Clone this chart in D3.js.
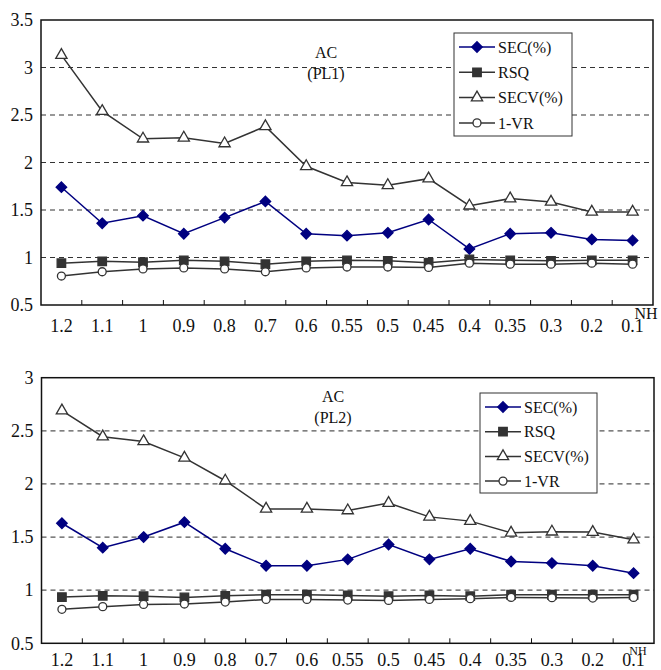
<!DOCTYPE html>
<html>
<head>
<meta charset="utf-8">
<script src="https://cdn.jsdelivr.net/npm/d3@7"></script>
<style>
  body { margin: 0; background: #fff; }
  text { font-family: "Liberation Serif", "Times New Roman", serif; fill: #111; }
</style>
</head>
<body>
<script>
// categories (NH)
let nh = ["1.2", "1.1", "1", "0.9", "0.8", "0.7", "0.6", "0.55", "0.5", "0.45", "0.4", "0.35", "0.3", "0.2", "0.1"];
let seriesNames = ["SEC(%)", "RSQ", "SECV(%)", "1-VR"];

// PL1
let sec1  = [1.74, 1.36, 1.44, 1.25, 1.42, 1.59, 1.25, 1.23, 1.26, 1.40, 1.09, 1.25, 1.26, 1.19, 1.18];
let rsq1  = [0.94, 0.96, 0.95, 0.97, 0.96, 0.93, 0.96, 0.97, 0.965, 0.945, 0.98, 0.97, 0.965, 0.97, 0.97];
let secv1 = [3.13, 2.54, 2.25, 2.26, 2.20, 2.38, 1.96, 1.79, 1.76, 1.83, 1.545, 1.62, 1.585, 1.48, 1.48];
let vr1   = [0.805, 0.85, 0.88, 0.89, 0.88, 0.85, 0.89, 0.90, 0.90, 0.895, 0.94, 0.93, 0.93, 0.94, 0.93];
let yTicks1 = [0.5, 1, 1.5, 2, 2.5, 3, 3.5];

// PL2
let sec2  = [1.63, 1.40, 1.50, 1.64, 1.39, 1.23, 1.23, 1.29, 1.43, 1.29, 1.39, 1.27, 1.255, 1.23, 1.16];
let rsq2  = [0.935, 0.947, 0.944, 0.932, 0.947, 0.957, 0.957, 0.95, 0.944, 0.95, 0.944, 0.957, 0.957, 0.957, 0.957];
let secv2 = [2.69, 2.445, 2.40, 2.245, 2.03, 1.765, 1.765, 1.75, 1.82, 1.69, 1.65, 1.54, 1.55, 1.547, 1.475];
let vr2   = [0.82, 0.845, 0.866, 0.87, 0.888, 0.913, 0.913, 0.907, 0.904, 0.913, 0.92, 0.932, 0.929, 0.926, 0.932];
let yTicks2 = [0.5, 1, 1.5, 2, 2.5, 3];

let svg = d3.select("body").append("svg")
            .attr("width", 661)
            .attr("height", 670);

// square rotated 45deg -> diamond like the reference
let diamond = {
  draw: function(ctx, size) {
    let r = Math.sqrt(size / 2);
    ctx.moveTo(0, -r);
    ctx.lineTo(r, 0);
    ctx.lineTo(0, r);
    ctx.lineTo(-r, 0);
    ctx.closePath();
  }
};

let styles = [
  {color: "#000080", sym: diamond, size: 55, fill: "#000080"},
  {color: "#333", sym: d3.symbolSquare, size: 72, fill: "#333"},
  {color: "#333", sym: d3.symbolTriangle, size: 55, fill: "#fff"},
  {color: "#333", sym: d3.symbolCircle, size: 50, fill: "#fff"}
];

function drawChart(cfg) {
  let g = svg.append("g");

  let x = d3.scaleBand()
            .domain(nh)
            .range([cfg.left, cfg.right]);

  let y = d3.scaleLinear()
            .domain([cfg.ticks[0], cfg.ticks[cfg.ticks.length - 1]])
            .range([cfg.bottom, cfg.top]);

  // dashed grid lines
  g.append("g")
    .selectAll("line")
    .data(cfg.ticks.slice(1, -1))
    .join("line")
    .attr("x1", cfg.left)
    .attr("x2", cfg.right)
    .attr("y1", d => y(d))
    .attr("y2", d => y(d))
    .style("stroke", cfg.grid)
    .style("stroke-width", 1.2)
    .style("stroke-dasharray", "5,4");

  // y tick labels
  g.append("g")
    .selectAll("text")
    .data(cfg.ticks)
    .join("text")
    .attr("x", cfg.left - 8)
    .attr("y", d => y(d))
    .attr("dy", "0.35em")
    .attr("text-anchor", "end")
    .style("font-size", "18px")
    .text(d => d);

  // x tick marks at category boundaries (inside)
  g.append("g")
    .selectAll("line")
    .data(nh.slice(1))
    .join("line")
    .attr("x1", d => x(d))
    .attr("x2", d => x(d))
    .attr("y1", cfg.bottom)
    .attr("y2", cfg.bottom - 5)
    .style("stroke", "#111")
    .style("stroke-width", 1);

  // x tick labels
  g.append("g")
    .selectAll("text")
    .data(nh)
    .join("text")
    .attr("x", d => x(d) + x.bandwidth() / 2)
    .attr("y", cfg.labelY)
    .attr("dy", "0.35em")
    .attr("text-anchor", "middle")
    .style("font-size", "18px")
    .text(d => d);

  g.append("text")
    .attr("x", cfg.nhX)
    .attr("y", cfg.nhY)
    .attr("text-anchor", "middle")
    .attr("dy", "0.35em")
    .style("font-size", cfg.nhSize)
    .text("NH");

  // series
  let line = d3.line()
               .x((d, i) => x(nh[i]) + x.bandwidth() / 2)
               .y(d => y(d));

  let order = [2, 1, 3, 0];
  order.forEach(function(k) {
    let s = styles[k];
    g.append("path")
      .datum(cfg.series[k])
      .attr("d", line)
      .style("fill", "none")
      .style("stroke", s.color)
      .style("stroke-width", 1.5);
  });
  order.forEach(function(k) {
    let s = styles[k];
    g.append("g")
      .selectAll("path")
      .data(cfg.series[k])
      .join("path")
      .attr("transform", (d, i) => "translate(" + (x(nh[i]) + x.bandwidth() / 2) + "," + y(d) + ")")
      .attr("d", d3.symbol().type(s.sym).size(s.size))
      .style("fill", s.fill)
      .style("stroke", s.color)
      .style("stroke-width", 1.3);
  });

  // frame
  g.append("rect")
    .attr("x", cfg.left)
    .attr("y", cfg.top)
    .attr("width", cfg.right - cfg.left)
    .attr("height", cfg.bottom - cfg.top)
    .style("fill", "none")
    .style("stroke", "#111")
    .style("stroke-width", 1.5);

  // annotation
  g.append("text")
    .attr("x", cfg.noteX)
    .attr("y", cfg.noteY)
    .attr("text-anchor", "middle")
    .style("font-size", "16px")
    .text("AC");
  g.append("text")
    .attr("x", cfg.noteX)
    .attr("y", cfg.noteY + 21)
    .attr("text-anchor", "middle")
    .style("font-size", "16px")
    .text(cfg.note);

  // legend
  let lg = g.append("g")
            .attr("transform", "translate(" + cfg.legX + "," + cfg.legY + ")");
  lg.append("rect")
    .attr("width", cfg.legW)
    .attr("height", cfg.legH)
    .style("fill", "#fff")
    .style("stroke", "#333")
    .style("stroke-width", 1);

  let row = lg.selectAll(".legend")
              .data(seriesNames)
              .join("g")
              .attr("class", "legend")
              .attr("transform", (d, i) => "translate(0," + (cfg.legRow0 + i * cfg.legStep) + ")");

  row.append("line")
     .attr("x1", 5)
     .attr("x2", 41)
     .style("stroke", (d, i) => styles[i].color)
     .style("stroke-width", 1.5);
  row.append("path")
     .attr("transform", "translate(23,0)")
     .attr("d", (d, i) => d3.symbol().type(styles[i].sym).size(styles[i].size)())
     .style("fill", (d, i) => styles[i].fill)
     .style("stroke", (d, i) => styles[i].color)
     .style("stroke-width", 1.3);
  row.append("text")
     .attr("x", 44)
     .attr("dy", "0.35em")
     .style("font-size", "16px")
     .text(d => d);
}

drawChart({
  left: 41, right: 653, top: 20, bottom: 305,
  ticks: yTicks1, grid: "#333",
  series: [sec1, rsq1, secv1, vr1],
  labelY: 326, nhX: 646, nhY: 313, nhSize: "16px",
  noteX: 326, noteY: 58, note: "(PL1)",
  legX: 454, legY: 33, legW: 118, legH: 103, legRow0: 14, legStep: 25.3
});

drawChart({
  left: 41.5, right: 654, top: 377.7, bottom: 643.3,
  ticks: yTicks2, grid: "#555",
  series: [sec2, rsq2, secv2, vr2],
  labelY: 660, nhX: 638, nhY: 651, nhSize: "12px",
  noteX: 333, noteY: 402, note: "(PL2)",
  legX: 480, legY: 393, legW: 117, legH: 100, legRow0: 14, legStep: 24.7
});
</script>
</body>
</html>
